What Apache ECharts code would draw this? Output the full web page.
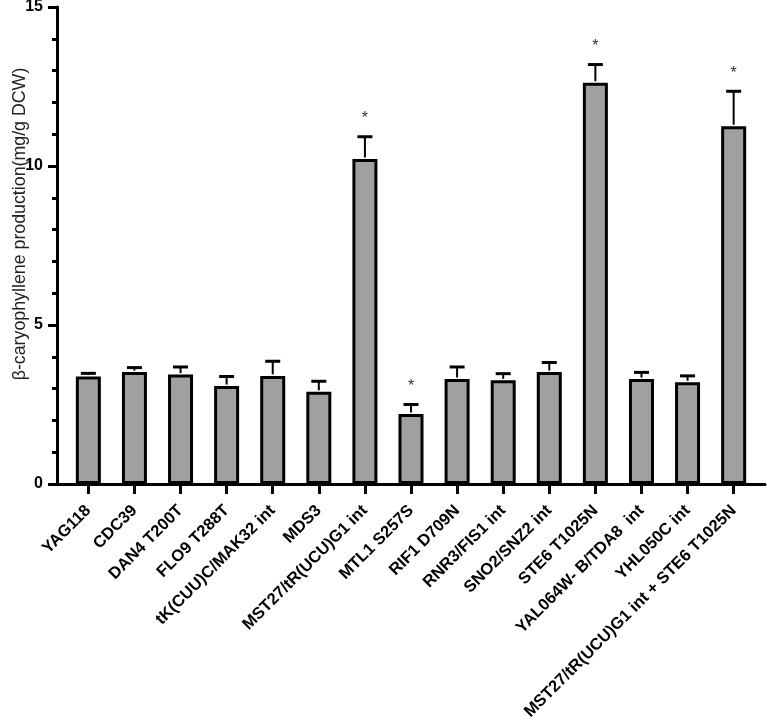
<!DOCTYPE html>
<html>
<head>
<meta charset="utf-8">
<script src="https://cdn.jsdelivr.net/npm/echarts@6/dist/echarts.min.js"></script>
<style>
  html, body { margin: 0; padding: 0; background: #fff; }
  #chart { width: 767px; height: 725px; }
</style>
</head>
<body>
<div id="chart"></div>
<script>
const categories = [
  'YAG118', 'CDC39', 'DAN4 T200T', 'FLO9 T288T', 'tK(CUU)C/MAK32 int', 'MDS3',
  'MST27/tR(UCU)G1 int', 'MTL1 S257S', 'RIF1 D709N', 'RNR3/FIS1 int',
  'SNO2/SNZ2 int', 'STE6 T1025N', 'YAL064W- B/TDA8  int', 'YHL050C int',
  'MST27/tR(UCU)G1 int + STE6 T1025N'
];
const means = [3.38, 3.52, 3.44, 3.08, 3.40, 2.90, 10.22, 2.20, 3.30, 3.26, 3.52, 12.62, 3.30, 3.20, 11.25];
const errors = [0.10, 0.14, 0.24, 0.30, 0.46, 0.33, 0.70, 0.30, 0.38, 0.21, 0.30, 0.57, 0.21, 0.20, 1.10];
const marks = ['', '', '', '', '', '', '*', '*', '', '', '', '*', '', '', '*'];
const yTicks = [0, 5, 10, 15];

const idx = categories.map((c, i) => i);
const barData = means.map((v, i) => [i, v]);
const errData = means.map((v, i) => [i, v, errors[i]]);

const chart = echarts.init(document.getElementById('chart'), null, { renderer: 'canvas' });
chart.setOption({
  animation: false,
  backgroundColor: '#ffffff',
  grid: { left: 57, right: 2, top: 7, bottom: 241, containLabel: false, outerBoundsMode: 'none' },
  xAxis: {
    type: 'value',
    min: -0.68,
    max: 14.68,
    splitLine: { show: false },
    axisLine: { show: true, onZero: false, lineStyle: { color: '#000', width: 3 } },
    axisTick: { show: true, customValues: idx, length: 10, lineStyle: { color: '#000', width: 3 } },
    axisLabel: {
      show: true,
      customValues: idx,
      rotate: 45,
      margin: 24,
      fontFamily: 'Liberation Sans, Arial, sans-serif',
      fontWeight: 'bold',
      fontSize: 16.5,
      color: '#000',
      formatter: v => categories[Math.round(v)]
    }
  },
  yAxis: {
    type: 'value',
    min: yTicks[0],
    max: yTicks[yTicks.length - 1],
    interval: 5,
    name: 'β-caryophyllene production(mg/g DCW)',
    nameLocation: 'middle',
    nameGap: 28,
    nameMoveOverlap: false,
    nameTextStyle: {
      fontFamily: 'Liberation Sans, Arial, sans-serif',
      fontSize: 17.8,
      color: '#222',
      padding: [0, 0, 0, 43]
    },
    splitLine: { show: false },
    axisLine: { show: true, onZero: false, lineStyle: { color: '#000', width: 3 } },
    axisTick: { show: true, length: 9, lineStyle: { color: '#000', width: 3 } },
    minorTick: { show: true, splitNumber: 5, length: 5, lineStyle: { color: '#000', width: 3 } },
    axisLabel: {
      margin: 14,
      fontFamily: 'Liberation Sans, Arial, sans-serif',
      fontWeight: 'bold',
      fontSize: 16,
      color: '#000'
    }
  },
  series: [
    {
      type: 'bar',
      data: barData,
      barWidth: 25,
      itemStyle: { color: '#a0a0a0', borderColor: '#000', borderWidth: 3 },
      z: 2
    },
    {
      type: 'custom',
      data: errData,
      z: 3,
      renderItem: function (params, api) {
        const x = api.value(0);
        const m = api.value(1);
        const e = api.value(2);
        const base = api.coord([x, m]);
        const top = api.coord([x, m + e]);
        const half = 7.5;
        const children = [
          { type: 'line', shape: { x1: base[0], y1: base[1] - 1.5, x2: top[0], y2: top[1] },
            style: { stroke: '#000', lineWidth: 2 } },
          { type: 'line', shape: { x1: top[0] - half, y1: top[1], x2: top[0] + half, y2: top[1] },
            style: { stroke: '#000', lineWidth: 3 } }
        ];
        const mk = marks[params.dataIndex];
        if (mk) {
          children.push({
            type: 'text',
            style: {
              text: mk, x: top[0], y: top[1] - 18,
              align: 'center', verticalAlign: 'middle',
              fontSize: 16, fontFamily: 'Liberation Sans, Arial, sans-serif', fill: '#333'
            }
          });
        }
        return { type: 'group', children: children };
      }
    }
  ]
});
</script>
</body>
</html>
